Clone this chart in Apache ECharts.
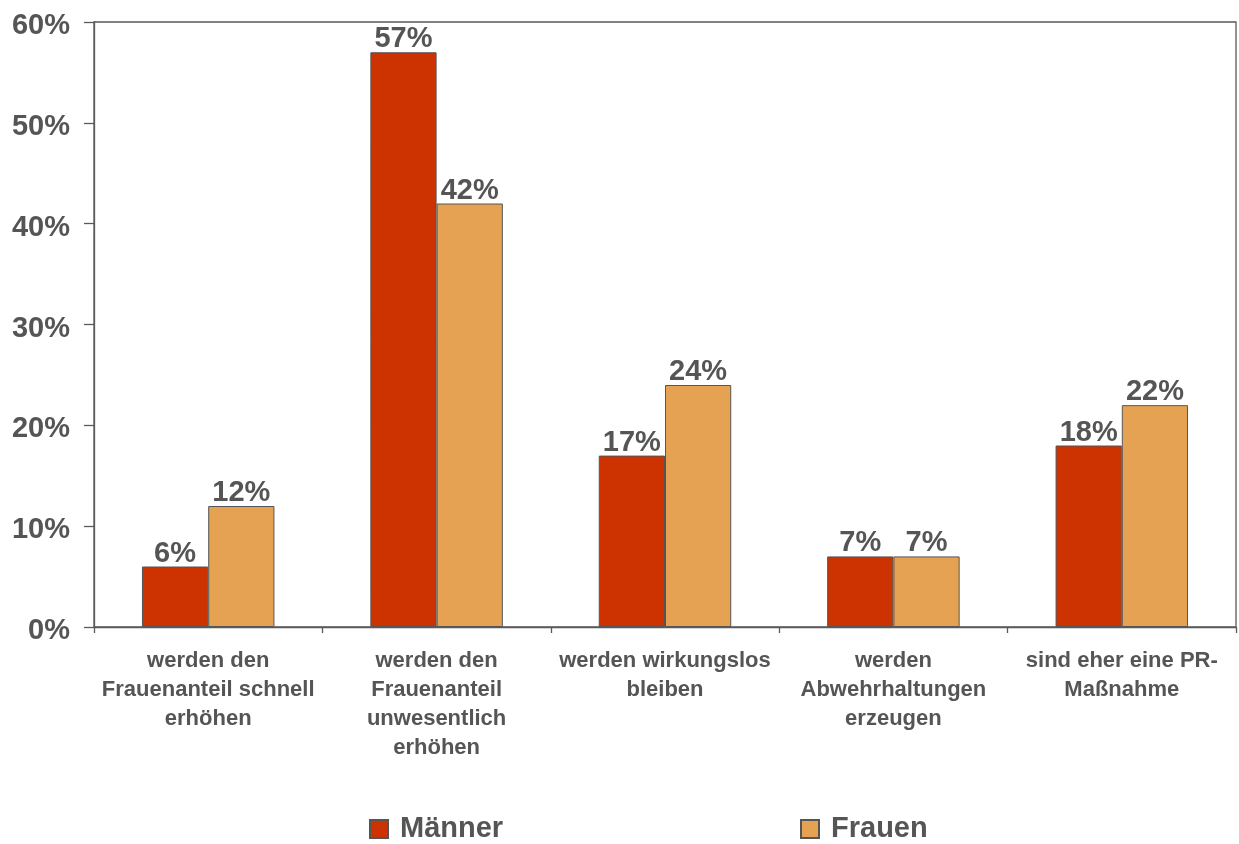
<!DOCTYPE html>
<html>
<head>
<meta charset="utf-8">
<title>Frauenquote – Einschätzung</title>
<script src="https://cdn.jsdelivr.net/npm/echarts@6/dist/echarts.min.js"></script>
<style>
  html, body { margin: 0; padding: 0; background: #ffffff; }
  #chart { width: 1239px; height: 844px; }
</style>
</head>
<body>
<div id="chart"></div>
<script>
// Antwortkategorien (x-Achse)
const categories = [
  'werden den\nFrauenanteil schnell\nerhöhen',
  'werden den\nFrauenanteil\nunwesentlich\nerhöhen',
  'werden wirkungslos\nbleiben',
  'werden\nAbwehrhaltungen\nerzeugen',
  'sind eher eine PR-\nMaßnahme'
];
// Anteile in Prozent
const maenner = [6, 57, 17, 7, 18];
const frauen = [12, 42, 24, 7, 22];
const seriesNames = ['Männer', 'Frauen'];
// y-Achse: 0 % bis 60 % in 10er-Schritten
const yMin = 0, yMax = 60, yStep = 10;

const textColor = '#555555';
const lineColor = '#5a5a5a';
const font = '"Liberation Sans", Arial, sans-serif';

const chart = echarts.init(document.getElementById('chart'));

const valueLabel = {
  show: true,
  position: 'top',
  distance: -1,
  formatter: '{c}%',
  color: textColor,
  fontFamily: font,
  fontWeight: 'bold',
  fontSize: 29,
  lineHeight: 28
};

const legendText = {
  color: textColor,
  fontFamily: font,
  fontWeight: 'bold',
  fontSize: 29,
  lineHeight: 30,
  padding: [0, 0, 0, 7]
};

chart.setOption({
  animation: false,
  backgroundColor: '#ffffff',
  grid: {
    left: 94,
    right: 3,
    top: 22,
    bottom: 217,
    show: true,
    borderColor: lineColor,
    borderWidth: 1.3,
    containLabel: false
  },
  legend: [
    {
      data: [seriesNames[0]],
      left: 369,
      top: 814,
      padding: 0,
      itemWidth: 18,
      itemHeight: 18,
      icon: 'rect',
      textStyle: legendText
    },
    {
      data: [seriesNames[1]],
      left: 800,
      top: 814,
      padding: 0,
      itemWidth: 18,
      itemHeight: 18,
      icon: 'rect',
      textStyle: legendText
    }
  ],
  xAxis: {
    type: 'category',
    data: categories,
    boundaryGap: true,
    axisLine: { show: true, lineStyle: { color: lineColor, width: 1.3 } },
    axisTick: { show: true, length: 6, alignWithLabel: false, lineStyle: { color: lineColor, width: 1.3 } },
    axisLabel: {
      interval: 0,
      margin: 19,
      color: textColor,
      fontFamily: font,
      fontWeight: 'bold',
      fontSize: 22,
      lineHeight: 29,
      align: 'center'
    },
    splitLine: { show: false }
  },
  yAxis: {
    type: 'value',
    min: yMin,
    max: yMax,
    interval: yStep,
    axisLine: { show: true, lineStyle: { color: lineColor, width: 1.3 } },
    axisTick: { show: true, inside: false, length: 10, lineStyle: { color: lineColor, width: 1.3 } },
    axisLabel: {
      margin: 24,
      formatter: '{value}%',
      color: textColor,
      fontFamily: font,
      fontWeight: 'bold',
      fontSize: 29,
      verticalAlign: 'top',
      lineHeight: 8
    },
    splitLine: { show: false }
  },
  series: [
    {
      name: seriesNames[0],
      type: 'bar',
      data: maenner,
      barWidth: '29%',
      barGap: '0%',
      itemStyle: { color: '#CC3300', borderColor: '#555555', borderWidth: 1 },
      label: valueLabel
    },
    {
      name: seriesNames[1],
      type: 'bar',
      data: frauen,
      barWidth: '29%',
      barGap: '0%',
      itemStyle: { color: '#E6A253', borderColor: '#555555', borderWidth: 1 },
      label: valueLabel
    }
  ]
});
</script>
</body>
</html>
